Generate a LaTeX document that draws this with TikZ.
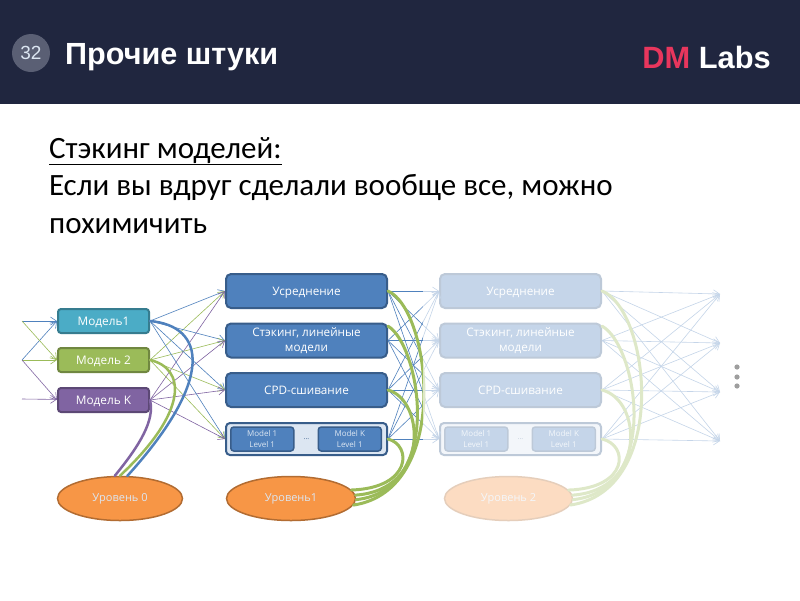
\documentclass[tikz,border=0pt]{standalone}
\usepackage{fontspec}
\setmainfont{Carlito}
\newfontfamily\headfont{Liberation Sans}
\newfontfamily\boxfont{Open Sans}
\usetikzlibrary{arrows.meta,positioning,shapes.geometric}
\definecolor{headbg}{HTML}{20263F}
\definecolor{badge}{HTML}{5A5F74}
\definecolor{brand}{HTML}{E8365D}
\definecolor{mblue}{HTML}{4F81BD}
\definecolor{mblueline}{HTML}{385D8A}
\definecolor{mteal}{HTML}{4BACC6}
\definecolor{mgreen}{HTML}{9BBB59}
\definecolor{mpurple}{HTML}{8064A2}
\definecolor{morange}{HTML}{F79646}
\definecolor{metabg}{HTML}{DCE6F2}
\begin{document}
\begin{tikzpicture}[x=1pt,y=-1pt,
modelbox/.style={draw=#1!72!black,fill=#1,line width=2pt,rounded corners=3pt,text=white,minimum width=91pt,minimum height=24pt,inner sep=0pt,text height=11pt,text depth=2pt,font=\boxfont\fontsize{11.8}{14}\selectfont},
stackbox/.style={draw=mblueline,fill=mblue,line width=2pt,rounded corners=5pt,text=white,minimum width=161pt,minimum height=34pt,inner sep=0pt,font=\boxfont\fontsize{11.7}{15.5}\selectfont},
oneline/.style={text height=11pt,text depth=2pt},
metabox/.style={draw=mblueline,fill=metabg,line width=2pt,rounded corners=4pt,minimum width=161pt,minimum height=32pt,inner sep=0pt},
subbox/.style={draw=mblueline,fill=mblue,line width=1.5pt,rounded corners=3pt,text=metabg,align=center,minimum width=63pt,minimum height=24pt,inner sep=0pt,font=\boxfont\fontsize{8}{10.5}\selectfont},
levelell/.style={ellipse,draw=morange!72!black,fill=morange,line width=1.5pt,text=metabg,minimum height=44pt,inner sep=0pt,font=\boxfont\fontsize{11}{14}\selectfont},
arr/.style={-{Straight Barb[length=6pt,width=8pt]},line width=.6pt},
thick curve/.style={line width=#1,line cap=round}]
% slide background and header
\useasboundingbox (0,0) rectangle (800,600);
\fill[white] (0,0) rectangle (800,600);
\fill[headbg] (0,0) rectangle (800,104);
\node[circle,fill=badge,minimum size=38pt,inner sep=0pt,text=metabg,font=\headfont\fontsize{19}{22}\selectfont] (badgenum) at (31,53) {32};
\node[anchor=base west,inner sep=0pt,text=white,font=\headfont\bfseries\fontsize{30.6}{32}\selectfont] (title) at (65,64) {Прочие штуки};
\node[anchor=base east,inner sep=0pt,text=white,font=\headfont\bfseries\fontsize{30.8}{32}\selectfont] (brandname) at (771,68) {\textcolor{brand}{DM} Labs};
\node[anchor=north west,inner sep=0pt,align=left,font=\fontsize{31}{37.5}\selectfont] (bodytext) at (49,137) {\underline{Стэкинг моделей:}\\Если вы вдруг сделали вообще все, можно\\похимичить};
% base models
\node[modelbox=mteal] (model1) at (103.5,321) {Модель1};
\node[modelbox=mgreen,below=13pt of model1] (model2) {Модель 2};
\node[modelbox=mpurple,below=14pt of model2] (modelk) {Модель K};
\coordinate (in1) at (22,321);
\coordinate (in2) at (22,360);
\coordinate (in3) at (22,399);
% first level
\node[stackbox,oneline] (avg) at (306.5,291) {Усреднение};
\node[stackbox,align=center,below=13.5pt of avg] (stack) {Стэкинг, линейные\\модели};
\node[stackbox,oneline,below=13.5pt of stack] (cpd) {CPD-сшивание};
\node[metabox,below=14pt of cpd] (meta) {};
\node[subbox,right=5pt of meta.west] (sub1) {Model 1\\Level 1};
\node[subbox,left=6pt of meta.east] (subk) {Model K\\Level 1};
\node[text=mblueline,font=\boxfont\fontsize{7}{9}\selectfont] (subdots) at (meta.center) {...};
% second level
\node[stackbox,oneline] (avgb) at (520.5,291) {Усреднение};
\node[stackbox,align=center,below=13.5pt of avgb] (stackb) {Стэкинг, линейные\\модели};
\node[stackbox,oneline,below=13.5pt of stackb] (cpdb) {CPD-сшивание};
\node[metabox,below=14pt of cpdb] (metab) {};
\node[subbox,right=5pt of metab.west] (subb1) {Model 1\\Level 1};
\node[subbox,left=6pt of metab.east] (subbk) {Model K\\Level 1};
\node[text=mblueline,font=\boxfont\fontsize{7}{9}\selectfont] (subbdots) at (metab.center) {...};
% outputs
\coordinate (out1) at (720,294);
\coordinate (out2) at (720,343);
\coordinate (out3) at (720,392);
\coordinate (out4) at (720,441);
% level ellipses
\node[levelell,minimum width=125pt] (lvl0) at (120,498.5) {Уровень 0};
\node[levelell,minimum width=129pt] (lvl1) at (291,498.5) {Уровень1};
\node[levelell,minimum width=128pt] (lvl2) at (508.5,498.5) {Уровень 2};
% thin connectors
\draw[arr,draw=mblue] (in1)--(model1);
\draw[arr,draw=mblue] (in2)--(model1.west);
\draw[arr,draw=mgreen] (in1)--(model2.west);
\draw[arr,draw=mgreen] (in2)--(model2);
\draw[arr,draw=mpurple] (in2)--(modelk.west);
\draw[arr,draw=mpurple] (in3)--(modelk);
\foreach \t in {avg,stack,cpd,meta} {
\draw[arr,draw=mblue] (model1.east)--(\t.west);
\draw[arr,draw=mgreen] (model2.east)--(\t.west);
\draw[arr,draw=mpurple] (modelk.east)--(\t.west);
}
\foreach \s in {avg,stack,cpd,meta} {
\foreach \t in {avgb,stackb,cpdb,metab} {
\draw[arr,draw=mblue] (\s.east)--(\t.west);
}}
\foreach \s in {avgb,stackb,cpdb,metab} {
\foreach \t in {out1,out2,out3,out4} {
\draw[arr,draw=mblue] (\s.east)--(\t);
}}
% thick curves to the level ellipses
\draw[thick curve=2.5pt,mblue] (model1.east) .. controls (205,326) and (216,378) .. (lvl0.72);
\draw[thick curve=2.5pt,mgreen] (model2.east) .. controls (185,368) and (190,410) .. (lvl0.90);
\draw[thick curve=2.5pt,mpurple] (modelk.east) .. controls (155,420) and (140,445) .. (lvl0.103);
\draw[thick curve=3pt,mgreen] (avg.east) .. controls (431,310) and (452,490) .. (lvl1.-6);
\draw[thick curve=3pt,mgreen] (stack.10) .. controls (420,345) and (445,490) .. (lvl1.-1);
\draw[thick curve=3pt,mgreen] (cpd.east) .. controls (425,400) and (430,490) .. (lvl1.3);
\draw[thick curve=3pt,mgreen] (meta.east) .. controls (412,445) and (412,488) .. (lvl1.8);
\draw[thick curve=3pt,mgreen] (avgb.east) .. controls (650,310) and (670,490) .. (lvl2.-6);
\draw[thick curve=3pt,mgreen] (stackb.10) .. controls (637,345) and (662,490) .. (lvl2.-1);
\draw[thick curve=3pt,mgreen] (cpdb.east) .. controls (642,400) and (647,490) .. (lvl2.3);
\draw[thick curve=3pt,mgreen] (metab.east) .. controls (629,445) and (629,488) .. (lvl2.8);
% everything right of the first level is faded
\fill[white,opacity=.67] (423,265) rectangle (732,530);
\foreach \y in {367,377,386} {
\fill[black!38] (737,\y) circle (2.6);
}
\end{tikzpicture}
\end{document}
